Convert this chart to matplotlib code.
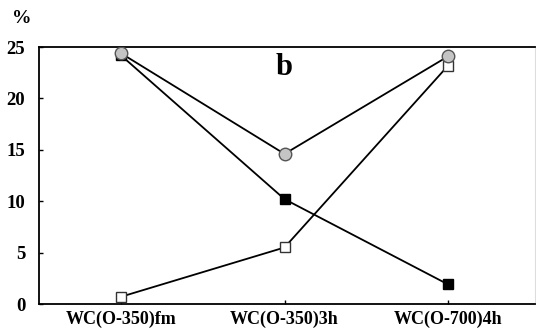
import matplotlib
matplotlib.use("Agg")
import matplotlib.pyplot as plt

# data
samples = ["WC(O-350)fm", "WC(O-350)3h", "WC(O-700)4h"]
circle_vals = [24.4, 14.6, 24.1]
filled_sq_vals = [24.2, 10.2, 1.9]
open_sq_vals = [0.7, 5.5, 23.2]
yticks = [0, 5, 10, 15, 20, 25]

plt.rcParams['font.family'] = ['Liberation Serif', 'DejaVu Serif']
plt.rcParams['font.weight'] = 'bold'

fig = plt.figure(figsize=(5.36, 3.32), dpi=100)
ax = fig.add_axes([0.0728, 0.0843, 0.9252, 0.7741])

x = list(range(len(samples)))
ax.plot(x, filled_sq_vals, color='black', lw=1.3, marker='s', ms=7,
        mfc='black', mec='black', zorder=3)
ax.plot(x, open_sq_vals, color='black', lw=1.3, marker='s', ms=7,
        mfc='white', mec='#333333', mew=1.0, zorder=4)
ax.plot(x, circle_vals, color='black', lw=1.3, marker='o', ms=9,
        mfc='#c4c4c4', mec='#555555', mew=1.0, zorder=5)

ax.set_xlim(-0.5, 2.53)
ax.set_ylim(0, 25)
ax.set_xticks(x)
ax.set_xticklabels(samples, fontsize=13, fontweight='bold')
ax.set_yticks(yticks)
ax.set_yticklabels([str(v) for v in yticks], fontsize=13.5, fontweight='bold')
ax.tick_params(direction='in', length=3, width=1)
ax.tick_params(axis='x', pad=5)
ax.tick_params(axis='y', pad=10)

for s in ['left', 'bottom', 'top']:
    ax.spines[s].set_linewidth(1.3)
ax.spines['right'].set_color('#dddddd')
ax.spines['right'].set_linewidth(0.8)

ax.text(1.0, 23.0, 'b', fontsize=22, fontweight='bold', ha='center', va='center')
fig.text(0.041, 0.943, '%', fontsize=14, fontweight='bold', ha='center', va='center')

fig.savefig('out.png', dpi=100)
